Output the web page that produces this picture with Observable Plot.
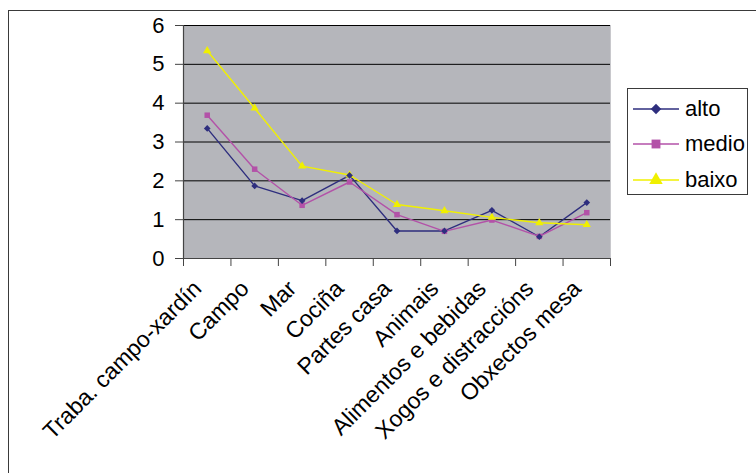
<!DOCTYPE html>
<html>
<head>
<meta charset="utf-8">
<script src="https://cdn.jsdelivr.net/npm/d3@7"></script>
<script src="https://cdn.jsdelivr.net/npm/@observablehq/plot@0.6"></script>
<style>
  html, body { margin: 0; padding: 0; background: #fff; }
  #wrap { position: relative; width: 756px; height: 473px; overflow: hidden; font-family: "Liberation Sans", Arial, sans-serif; }
  #frame { position: absolute; left: 8px; top: 10px; width: 800px; height: 500px; border: 1px solid #3a3a3a; box-sizing: border-box; }
  #chart { position: absolute; left: 0; top: 0; }
  #legend { position: absolute; left: 627px; top: 88px; width: 121px; height: 107px; border: 1px solid #3a3a3a; box-sizing: border-box; background: #fff; }
  .li { position: absolute; left: 5px; height: 24px; display: flex; align-items: center; font-size: 22px; color: #000; }
  .li svg { margin-right: 6px; }
</style>
</head>
<body>
<div id="wrap">
  <div id="frame"></div>
  <div id="chart"></div>
  <div id="legend"></div>
</div>
<script>
const categories = ["Traba. campo-xardín", "Campo", "Mar", "Cociña", "Partes casa", "Animais", "Alimentos e bebidas", "Xogos e distraccións", "Obxectos mesa"];
const alto  = [3.35, 1.87, 1.49, 2.14, 0.71, 0.71, 1.24, 0.56, 1.44];
const medio = [3.69, 2.30, 1.37, 1.97, 1.13, 0.70, 0.99, 0.57, 1.18];
const baixo = [5.35, 3.87, 2.38, 2.15, 1.39, 1.23, 1.06, 0.92, 0.87];
const yTicks = [0, 1, 2, 3, 4, 5, 6];
const seriesNames = ["alto", "medio", "baixo"];
const seriesColors = ["#2e2e7e", "#b352a8", "#f0f000"];
const seriesSymbols = ["diamond2", "square", "triangle"];
const seriesR = [4.7, 5.0, 5.0];

const seriesValues = [alto, medio, baixo];
const data = [];
seriesNames.forEach((s, si) => seriesValues[si].forEach((v, i) => data.push({series: s, i, cat: categories[i], value: v})));

const W = 756, H = 473;
const chart = Plot.plot({
  width: W, height: H,
  marginLeft: 183, marginRight: 146, marginTop: 25, marginBottom: 215,
  style: {fontFamily: "'Liberation Sans', Arial, sans-serif", background: "transparent"},
  x: {domain: [0, categories.length], label: null},
  y: {domain: [0, 6], label: null},
  color: {domain: seriesNames, range: seriesColors},
  symbol: {domain: seriesNames, range: seriesSymbols},
  marks: [
    Plot.frame({fill: "#b5b6bb", stroke: "#c8c8cc"}),
    Plot.ruleY(yTicks.slice(1), {stroke: "#000", strokeWidth: 1}),
    Plot.ruleX([0], {stroke: "#444", strokeWidth: 1.2}),
    Plot.ruleY([0], {stroke: "#444", strokeWidth: 1.2}),
    Plot.axisY({ticks: yTicks, tickSize: 8, tickPadding: 11, fontSize: 22, stroke: "#444", fill: "#000", label: null, tickFormat: d => String(d)}),
    Plot.axisX({ticks: d3.range(categories.length + 1), tickSize: 8, label: null, tickFormat: () => "", stroke: "#444"}),
    Plot.text(categories, {x: (d, i) => i + 0.5, frameAnchor: "bottom", text: d => d, rotate: -45, textAnchor: "end", lineAnchor: "top", dx: -16, dy: 20, fontSize: 23, fill: "#000"}),
    Plot.line(data, {x: d => d.i + 0.5, y: "value", z: "series", stroke: "series", strokeWidth: 1.4}),
    Plot.dot(data, {x: d => d.i + 0.5, y: "value", symbol: "series", fill: "series", stroke: "none", r: d => seriesR[seriesNames.indexOf(d.series)]})
  ]
});
document.getElementById("chart").appendChild(chart);

// legend
const legend = document.getElementById("legend");
const legendY = [8, 43, 79];
seriesNames.forEach((s, si) => {
  const row = document.createElement("div");
  row.className = "li";
  row.style.top = legendY[si] + "px";
  const sym = d3.symbol(d3["symbol" + {diamond2: "Diamond2", square: "Square", triangle: "Triangle"}[seriesSymbols[si]]], Math.PI * seriesR[si] ** 2)();
  row.innerHTML = `<svg width="46" height="24"><line x1="0" x2="46" y1="12" y2="12" stroke="${seriesColors[si]}" stroke-width="1.4"/><path d="${sym}" transform="translate(23,12)" fill="${seriesColors[si]}"/></svg><span>${s}</span>`;
  legend.appendChild(row);
});
</script>
</body>
</html>
